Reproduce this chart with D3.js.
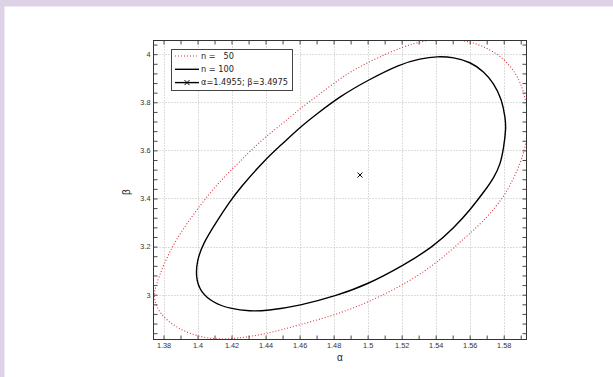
<!DOCTYPE html>
<html><head><meta charset="utf-8">
<script src="https://cdn.jsdelivr.net/npm/d3@7"></script>
<style>body{margin:0;background:#fff;} svg{display:block;}</style>
</head><body>
<svg id="c" width="613" height="377"></svg>
<script>
// ---- data ----
const alphaTicks = [1.38, 1.40, 1.42, 1.44, 1.46, 1.48, 1.50, 1.52, 1.54, 1.56, 1.58];
const alphaTickLabels = ["1.38", "1.4", "1.42", "1.44", "1.46", "1.48", "1.5", "1.52", "1.54", "1.56", "1.58"];
const betaTicks = [3.0, 3.2, 3.4, 3.6, 3.8, 4.0];
const betaTickLabels = ["3", "3.2", "3.4", "3.6", "3.8", "4"];

// confidence contour, n = 100
const n100Alpha = [1.3991, 1.3995, 1.4034, 1.4113, 1.4191, 1.4250, 1.4387, 1.4504, 1.4602, 1.4701,
  1.4838, 1.4996, 1.5192, 1.5310, 1.5408, 1.5506, 1.5604, 1.5682, 1.5741, 1.5790,
  1.5809, 1.5814, 1.5800, 1.5780, 1.5741, 1.5692, 1.5604, 1.5506, 1.5389, 1.5212,
  1.4996, 1.4820, 1.4602, 1.4407, 1.4309, 1.4191, 1.4093, 1.4015];
const n100Beta = [3.0694, 3.1389, 3.2150, 3.3052, 3.3884, 3.4437, 3.5547, 3.6308, 3.6960, 3.7514,
  3.8250, 3.8898, 3.9593, 3.9813, 3.9913, 3.9871, 3.9676, 3.9289, 3.8803, 3.8108,
  3.7347, 3.6931, 3.6100, 3.5405, 3.4852, 3.4353, 3.3534, 3.2773, 3.2012, 3.1222,
  3.0416, 2.9967, 2.9543, 2.9335, 2.9310, 2.9418, 2.9655, 3.0141];

// confidence contour, n = 50
const n50Alpha = [1.3740, 1.3750, 1.3799, 1.3878, 1.3975, 1.4093, 1.4230, 1.4367, 1.4504, 1.4602,
  1.4701, 1.4838, 1.4938, 1.5055, 1.5212, 1.5330, 1.5455, 1.5604, 1.5702, 1.5800,
  1.5878, 1.5918, 1.5941, 1.5940, 1.5927, 1.5888, 1.5829, 1.5800, 1.5702, 1.5570,
  1.5400, 1.5212, 1.5016, 1.4820, 1.4602, 1.4407, 1.4230, 1.4113, 1.3995, 1.3878, 1.3779];
const n50Beta = [2.9863, 3.0279, 3.1247, 3.2358, 3.3326, 3.4437, 3.5405, 3.6378, 3.7139, 3.7734,
  3.8250, 3.8990, 3.9426, 3.9842, 4.0328, 4.0561, 4.0653, 4.0536, 4.0258, 3.9842,
  3.9148, 3.8457, 3.7638, 3.6850, 3.6100, 3.5268, 3.4437, 3.4091, 3.3189, 3.2350,
  3.1270, 3.0416, 2.9726, 2.9177, 2.8753, 2.8366, 2.8179, 2.8137, 2.8270, 2.8615, 2.9168];

const estAlpha = [1.4955];
const estBeta = [3.4975];
const legendLabels = ["n =   50", "n = 100", "\u03b1=1.4955; \u03b2=3.4975"];

// ---- drawing ----
const svg = d3.select("#c");
svg.append("rect").attr("width", 613).attr("height", 377).attr("fill", "#ddd2e6");
svg.append("rect").attr("x", 4.5).attr("y", 6.5).attr("width", 613).attr("height", 377).attr("fill", "#ffffff");

const L = 153.5, R = 526.5, T = 40.5, B = 339.5;
const x = d3.scaleLinear().domain([1.37412, 1.5934]).range([L, R]);
const y = d3.scaleLinear().domain([2.8137, 4.0569]).range([B, T]);

svg.append("defs").append("clipPath").attr("id", "clip")
  .append("rect").attr("x", L).attr("y", T).attr("width", R - L).attr("height", B - T);

// grid
const grid = svg.append("g").attr("stroke", "#a8a8a8").attr("stroke-width", 0.8).attr("stroke-dasharray", "1,2");
grid.selectAll("line.v").data(alphaTicks).join("line").attr("class", "v")
  .attr("x1", d => Math.round(x(d)) + 0.5).attr("x2", d => Math.round(x(d)) + 0.5).attr("y1", T).attr("y2", B);
grid.selectAll("line.h").data(betaTicks).join("line").attr("class", "h")
  .attr("y1", d => Math.round(y(d)) + 0.5).attr("y2", d => Math.round(y(d)) + 0.5).attr("x1", L).attr("x2", R);

// minor tick positions
const alphaMinor = d3.range(138, 160).map(v => v / 100);
const betaMinor = d3.range(71, 102).map(v => v * 0.04);
const tickLen = 4;

function inwardAxis(axisFn, scale, vals, transform) {
  const g = svg.append("g").attr("transform", transform)
    .call(axisFn(scale).tickValues(vals).tickSize(-tickLen).tickFormat(""));
  g.select(".domain").remove();
  g.selectAll(".tick line").attr("stroke", "#333").attr("stroke-width", 0.9);
  return g;
}
inwardAxis(d3.axisBottom, x, alphaMinor, `translate(0,${B})`);
inwardAxis(d3.axisTop, x, alphaMinor, `translate(0,${T})`);
inwardAxis(d3.axisLeft, y, betaMinor, `translate(${L},0)`);
inwardAxis(d3.axisRight, y, betaMinor, `translate(${R},0)`);

// tick labels
const fontTick = "'Liberation Sans', Arial, sans-serif";
const xLab = svg.append("g").attr("transform", `translate(0,${B})`)
  .call(d3.axisBottom(x).tickValues(alphaTicks).tickSize(0).tickPadding(3)
    .tickFormat((d, i) => alphaTickLabels[i]));
xLab.select(".domain").remove();
xLab.selectAll("text").attr("font-family", fontTick).attr("font-size", 7.3).attr("fill", "#333");

const yLab = svg.append("g").attr("transform", `translate(${L},0)`)
  .call(d3.axisLeft(y).tickValues(betaTicks).tickSize(0).tickPadding(3)
    .tickFormat((d, i) => betaTickLabels[i]));
yLab.select(".domain").remove();
yLab.selectAll("text").attr("font-family", fontTick).attr("font-size", 7.3).attr("fill", "#333");

// curves
const line = d3.line().x(d => x(d[0])).y(d => y(d[1])).curve(d3.curveBasisClosed);
const plot = svg.append("g").attr("clip-path", "url(#clip)");
plot.append("path").datum(d3.zip(n50Alpha, n50Beta)).attr("d", line)
  .attr("fill", "none").attr("stroke", "#e0303c").attr("stroke-width", 1.1).attr("stroke-dasharray", "1,2");
plot.append("path").datum(d3.zip(n100Alpha, n100Beta)).attr("d", line)
  .attr("fill", "none").attr("stroke", "#000").attr("stroke-width", 1.4);

function xMark(g, cx, cy, s) {
  g.append("path").attr("d", `M${cx - s},${cy - s}L${cx + s},${cy + s}M${cx - s},${cy + s}L${cx + s},${cy - s}`)
    .attr("stroke", "#000").attr("stroke-width", 1).attr("fill", "none");
}
d3.zip(estAlpha, estBeta).forEach(d => xMark(plot, x(d[0]), y(d[1]), 2.5));

// frame
svg.append("rect").attr("x", L).attr("y", T).attr("width", R - L).attr("height", B - T)
  .attr("fill", "none").attr("stroke", "#333").attr("stroke-width", 1);

// axis labels
svg.append("text").attr("x", (L + R) / 2).attr("y", 361).attr("text-anchor", "middle")
  .attr("font-family", fontTick).attr("font-size", 10).attr("fill", "#222").text("\u03b1");
svg.append("text").attr("transform", `translate(130,${(T + B) / 2 + 2}) rotate(-90)`).attr("text-anchor", "middle")
  .attr("font-family", fontTick).attr("font-size", 10).attr("fill", "#222").text("\u03b2");

// legend
const lg = svg.append("g");
lg.append("rect").attr("x", 171.5).attr("y", 49.5).attr("width", 121).attr("height", 41)
  .attr("fill", "#fff").attr("stroke", "#444").attr("stroke-width", 1);
const rowsY = [56, 69.3, 82.6];
const styles = [
  {stroke: "#e0303c", w: 1.1, dash: "1,2", mark: false},
  {stroke: "#000", w: 1.4, dash: null, mark: false},
  {stroke: "#000", w: 1.4, dash: null, mark: true}
];
legendLabels.forEach((t, i) => {
  const s = styles[i];
  const ln = lg.append("line").attr("x1", 175).attr("x2", 199).attr("y1", rowsY[i]).attr("y2", rowsY[i])
    .attr("stroke", s.stroke).attr("stroke-width", s.w);
  if (s.dash) ln.attr("stroke-dasharray", s.dash);
  if (s.mark) xMark(lg, 187, rowsY[i], 2.5);
  lg.append("text").attr("x", 201).attr("y", rowsY[i]).attr("dy", "0.35em")
    .attr("font-family", "'DejaVu Sans', sans-serif").attr("font-size", 8.2).attr("fill", "#222")
    .style("white-space", "pre").text(t);
});
</script>
</body></html>
